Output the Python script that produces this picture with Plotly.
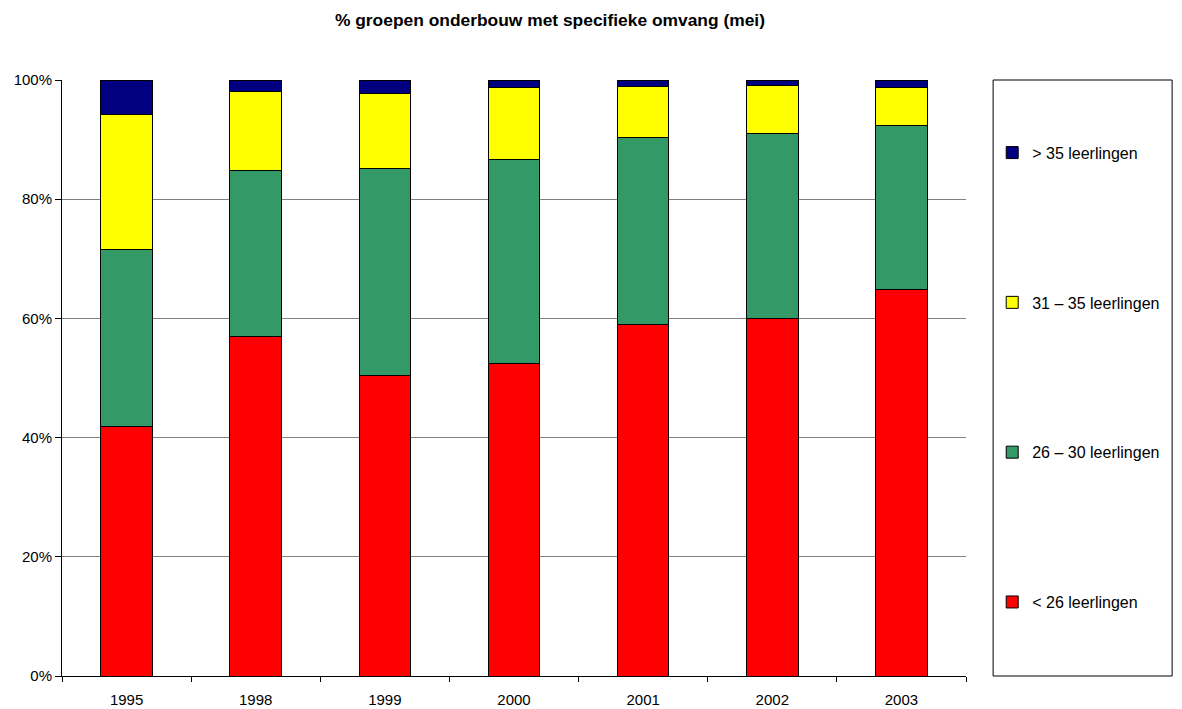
import plotly.graph_objects as go

years = ["1995", "1998", "1999", "2000", "2001", "2002", "2003"]
lt26 = [41.8, 56.9, 50.5, 52.4, 58.9, 60.0, 64.9]
g26_30 = [29.7, 27.9, 34.6, 34.3, 31.4, 31.0, 27.4]
g31_35 = [22.7, 13.3, 12.7, 12.1, 8.6, 8.0, 6.5]
gt35 = [5.8, 1.9, 2.2, 1.2, 1.1, 1.0, 1.2]

series = [
    ("< 26 leerlingen", lt26, "#FF0000"),
    ("26 \u2013 30 leerlingen", g26_30, "#339966"),
    ("31 \u2013 35 leerlingen", g31_35, "#FFFF00"),
    ("> 35 leerlingen", gt35, "#000080"),
]

FONT = "Arial, Liberation Sans, sans-serif"

fig = go.Figure()
for i, (name, vals, col) in enumerate(series):
    fig.add_trace(go.Bar(
        x=years, y=vals, name=name, width=0.4,
        marker=dict(color=col, line=dict(color="#000000", width=1)),
        legendgroup=str(i), legendrank=len(series) - i,
    ))

fig.update_layout(
    barmode="stack",
    width=1182, height=709,
    paper_bgcolor="white", plot_bgcolor="white",
    margin=dict(l=54, r=224, t=72, b=41, autoexpand=False),
    font=dict(family=FONT, size=15, color="black"),
    title=dict(text="<b>% groepen onderbouw met specifieke omvang (mei)</b>",
               x=0.4585, xref="container", xanchor="center",
               y=0.983, yanchor="middle",
               font=dict(size=17.4, family=FONT)),
    showlegend=True,
    legend=dict(traceorder="grouped", tracegroupgap=126,
                x=1.029, xanchor="left", y=0.9066, yanchor="top",
                font=dict(size=16), bgcolor="rgba(0,0,0,0)"),
    shapes=[dict(type="rect", xref="paper", yref="paper",
                 x0=1.03, x1=1.228, y0=0.0, y1=1.0,
                 line=dict(color="black", width=1), fillcolor="rgba(0,0,0,0)")],
)
fig.update_xaxes(type="category", showline=True, linecolor="black", linewidth=1,
                 ticks="outside", tickson="boundaries", ticklen=5, tickcolor="black",
                 ticklabelstandoff=10, automargin=False,
                 showgrid=False, mirror=False)
fig.update_yaxes(range=[0, 100], tickvals=[0, 20, 40, 60, 80, 100],
                 ticktext=["0%", "20%", "40%", "60%", "80%", "100%"],
                 showline=True, linecolor="black", linewidth=1,
                 ticks="outside", ticklen=6, tickcolor="black", automargin=False,
                 showgrid=True, gridcolor="#808080", gridwidth=1, zeroline=False)

fig.write_html("out.html")
